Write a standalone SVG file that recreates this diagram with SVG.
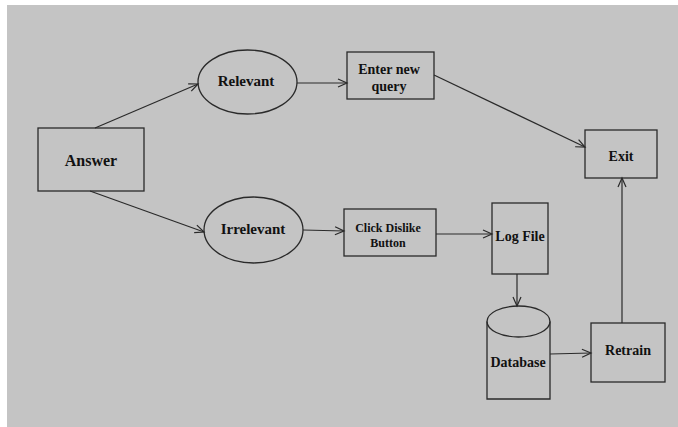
<svg xmlns="http://www.w3.org/2000/svg" width="678" height="427" viewBox="0 0 678 427">
<style>
.bg{fill:#c4c4c4}
.s{fill:none;stroke:#2a2a2a;stroke-width:1.3}
.t{font-family:"Liberation Serif","Times New Roman",serif;font-weight:bold;fill:#111;text-anchor:middle;dominant-baseline:central}
.c{fill:none;stroke:#2a2a2a;stroke-width:1.2}
</style>
<defs>
<marker id="a" markerWidth="12" markerHeight="12" refX="10" refY="5" orient="auto" markerUnits="userSpaceOnUse">
<polyline points="1,1 10,5 1,9" fill="none" stroke="#2a2a2a" stroke-width="1.2"/>
</marker>
</defs>
<rect x="0" y="0" width="678" height="427" fill="#ffffff"/>
<rect class="bg" x="7" y="5" width="671" height="422"/>
<g id="connectors">
<line class="c" x1="95" y1="128" x2="198" y2="84" marker-end="url(#a)"/>
<line class="c" x1="90" y1="191" x2="204" y2="232" marker-end="url(#a)"/>
<line class="c" x1="297" y1="83" x2="347" y2="83" marker-end="url(#a)"/>
<line class="c" x1="434" y1="75" x2="585" y2="147" marker-end="url(#a)"/>
<line class="c" x1="303" y1="230" x2="344" y2="231" marker-end="url(#a)"/>
<line class="c" x1="436" y1="234" x2="492" y2="234" marker-end="url(#a)"/>
<line class="c" x1="517" y1="274" x2="517" y2="306" marker-end="url(#a)"/>
<line class="c" x1="550" y1="354" x2="591" y2="353" marker-end="url(#a)"/>
<line class="c" x1="622" y1="323" x2="622" y2="178" marker-end="url(#a)"/>
</g>
<g id="answer">
<rect class="s" x="38" y="128" width="106" height="63"/>
<text class="t" x="91" y="160" font-size="16">Answer</text>
</g>
<g id="relevant">
<ellipse class="s" cx="247.5" cy="82" rx="49.5" ry="32"/>
<text class="t" x="246" y="81" font-size="15">Relevant</text>
</g>
<g id="enter-new-query">
<rect class="s" x="347" y="52" width="87" height="47"/>
<text class="t" x="389" y="69" font-size="14">Enter new</text>
<text class="t" x="389" y="86" font-size="14">query</text>
</g>
<g id="exit">
<rect class="s" x="585" y="130" width="72" height="48"/>
<text class="t" x="621" y="156" font-size="14">Exit</text>
</g>
<g id="irrelevant">
<ellipse class="s" cx="253.5" cy="230" rx="49.5" ry="33"/>
<text class="t" x="253" y="229" font-size="15">Irrelevant</text>
</g>
<g id="click-dislike">
<rect class="s" x="344" y="209" width="92" height="47"/>
<text class="t" x="388" y="228" font-size="12">Click Dislike</text>
<text class="t" x="388" y="243" font-size="12">Button</text>
</g>
<g id="log-file">
<rect class="s" x="492" y="203" width="56" height="71"/>
<text class="t" x="520" y="236" font-size="14">Log File</text>
</g>
<g id="database">
<path class="s" d="M487,321.5 L487,399 L550,399 L550,321.5"/>
<ellipse class="s" cx="518.5" cy="321.5" rx="31.5" ry="15.5"/>
<text class="t" x="518" y="362" font-size="14">Database</text>
</g>
<g id="retrain">
<rect class="s" x="591" y="323" width="74" height="59"/>
<text class="t" x="628" y="350" font-size="14">Retrain</text>
</g>
</svg>
